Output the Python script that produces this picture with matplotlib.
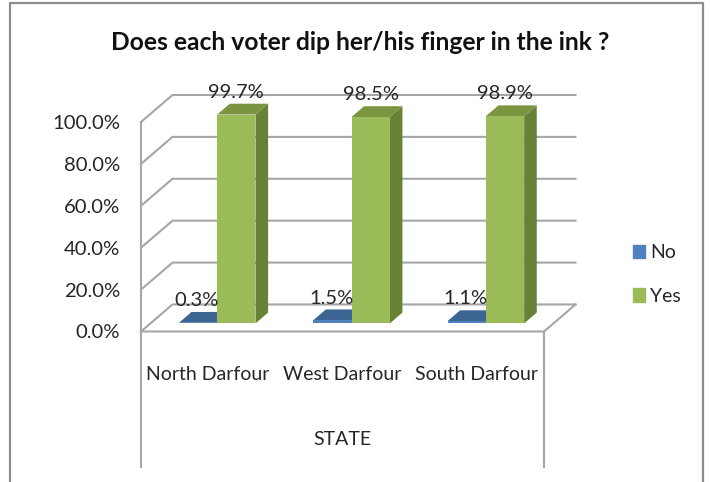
import matplotlib
matplotlib.use("Agg")
import matplotlib.pyplot as plt
from matplotlib.lines import Line2D
from matplotlib.patches import Patch

states = ["North Darfour", "West Darfour", "South Darfour"]
no_values = [0.3, 1.5, 1.1]
yes_values = [99.7, 98.5, 98.9]
y_ticks = [0, 20, 40, 60, 80, 100]

plt.rcParams["font.family"] = ["Lato", "DejaVu Sans"]

W, H = 710, 482
GRID = "#a6a6a6"
TEXT = "#262626"
# depth of the fake 3d box, in data units
DX, DY = 0.2345, 12.9
BAR_W = 0.285


def proj(x, y, d):
    return x + d * DX, y + d * DY


def box(ax, x0, x1, top, front, side, roof):
    # bar stands 0.3 to 0.7 of the way into the floor
    a, b = 0.3, 0.7
    fx, fy = proj(x0, 0, a)
    ax.bar(fx, top, BAR_W, bottom=fy, align="edge", color=front, zorder=5, clip_on=False)
    pts = [proj(x1, 0, a), proj(x1, 0, b), proj(x1, top, b), proj(x1, top, a)]
    ax.fill(*zip(*pts), color=side, lw=0, zorder=4, clip_on=False)
    pts = [proj(x0, top, a), proj(x1, top, a), proj(x1, top, b), proj(x0, top, b)]
    ax.fill(*zip(*pts), color=roof, lw=0, zorder=4, clip_on=False)


fig = plt.figure(figsize=(W / 100, H / 100), dpi=100)
ax = fig.add_axes([141 / W, 1 - 331.5 / H, 403 / W, 209.5 / H])
ax.set_xlim(0, 3)
ax.set_ylim(0, 100)
for s in ax.spines.values():
    s.set_visible(False)
ax.patch.set_alpha(0)

# walls
for t in y_ticks:
    x0, y0 = proj(0, t, 1)
    x1, y1 = proj(3, t, 1)
    ax.plot([0, x0, x1], [t, y0, y1], color=GRID, lw=1.5, zorder=1, clip_on=False)
ax.plot([0, 3, proj(3, 0, 1)[0]], [0, 0, proj(3, 0, 1)[1]], color=GRID, lw=1.5, zorder=1, clip_on=False)
ax.plot([0, 0], [0, 100], color=GRID, lw=1.5, zorder=1, clip_on=False)

# lines under the axis
for x in [0, 3]:
    ax.plot([x, x], [0, -64.5], color=GRID, lw=1.5, zorder=1, clip_on=False)

for i in range(len(states)):
    box(ax, i + 0.497 - BAR_W, i + 0.497, no_values[i], "#4f81bd", "#3d6594", "#3d6594")
    box(ax, i + 0.497, i + 0.497 + BAR_W, yes_values[i], "#9bbb59", "#678235", "#7a943f")
    x, y = proj(i + 0.497 + BAR_W / 2, yes_values[i], 0.3)
    ax.annotate(f"{yes_values[i]}%", (x, y), xytext=(0, 16), textcoords="offset points",
                ha="center", va="center", fontsize=14.5, color=TEXT, zorder=6, annotation_clip=False)
    x, y = proj(i + 0.497 - BAR_W / 2, no_values[i], 0.3)
    ax.annotate(f"{no_values[i]}%", (x, y), xytext=(-1, 16), textcoords="offset points",
                ha="center", va="center", fontsize=14.5, color=TEXT, zorder=6, annotation_clip=False)

ax.set_yticks(y_ticks)
ax.set_yticklabels([f"{t:.1f}%" for t in y_ticks], fontsize=14.6, color=TEXT)
ax.set_xticks([i + 0.5 for i in range(3)])
ax.set_xticklabels(states, fontsize=14, color=TEXT)
ax.tick_params(axis="y", length=0, pad=15)
ax.tick_params(axis="x", length=0, pad=24.5)
ax.set_xlabel("STATE", fontsize=14, color=TEXT, labelpad=35)

handles = [Patch(color="#4f81bd", label="No"), Patch(color="#9bbb59", label="Yes")]
fig.legend(handles=handles, loc="center left", bbox_to_anchor=(615 / W, 1 - 274.5 / H), frameon=False,
           fontsize=14, labelcolor=TEXT, handlelength=0.62, handleheight=0.67, handletextpad=0.3,
           labelspacing=1.36)

fig.text(360 / W, 1 - 42 / H, "Does each voter dip her/his finger in the ink ?", fontsize=17.7,
         fontweight="bold", ha="center", va="center", color="#111111")

# outer frame, bottom edge is cut off in the picture
fx = [10 / W, 10 / W, 702.7 / W, 702.7 / W]
fy = [0, 1 - 3 / H, 1 - 3 / H, 0]
fig.add_artist(Line2D(fx, fy, color="#8c8c8c", lw=1.6))

fig.savefig("out.png", dpi=100)
